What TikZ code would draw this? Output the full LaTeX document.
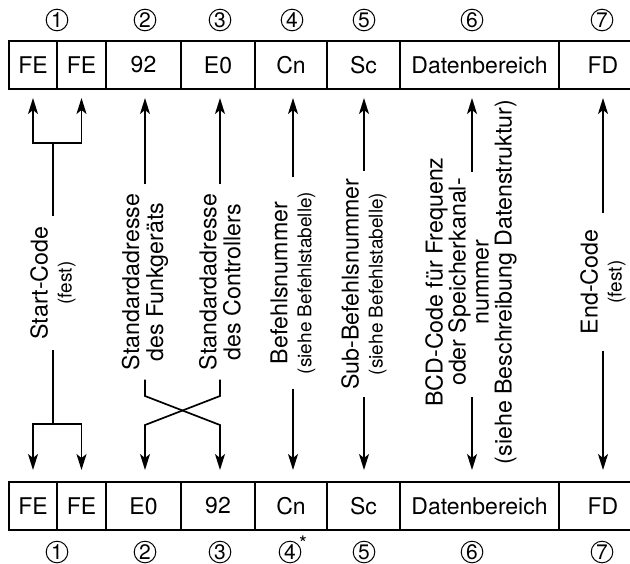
\documentclass[tikz,border=0pt]{standalone}
\usepackage{fontspec}
\setmainfont{TeX Gyre Heros}
\usetikzlibrary{positioning,arrows.meta}

\newcommand\klein{\fontsize{9.5}{12}\selectfont}

\tikzset{
  cell/.style={draw, line width=1.1pt, outer sep=0pt, minimum height=24pt,
    font=\fontsize{11.5}{14}\selectfont},
  lbl/.style={rotate=90, align=center, inner xsep=5pt, inner ysep=0pt,
    font=\fontsize{11.6}{12}\selectfont},
  num/.style={circle, draw, line width=0.5pt, minimum size=10.8pt, inner sep=0pt,
    font=\fontsize{10.5}{10}\selectfont},
  arr/.style={line width=0.85pt, -{Stealth[length=8pt,width=5pt,inset=2pt]}},
  line/.style={line width=0.85pt}
}

\begin{document}
\begin{tikzpicture}[x=0.5pt,y=-0.5pt]
  \useasboundingbox (0,0) rectangle (630,563);
  \clip (0,0) rectangle (630,563);

  % Numbers
  \node[num] (n1t) at (57,20) {1};
  \node[num] (n2t) at (145,20) {2};
  \node[num] (n3t) at (220,20) {3};
  \node[num] (n4t) at (292,20) {4};
  \node[num] (n5t) at (364,20) {5};
  \node[num] (n6t) at (472,20) {6};
  \node[num] (n7t) at (602,20) {7};

  \node[num] (n1b) at (57,552) {1};
  \node[num] (n2b) at (145,552) {2};
  \node[num] (n3b) at (220,552) {3};
  \node[num] (n4b) at (290,552) {4};
  \node[inner sep=0pt, font=\fontsize{10}{12}\selectfont] (ast) at ([xshift=2.5pt,yshift=0.5pt]n4b.north east) {*};
  \node[num] (n5b) at (364,552) {5};
  \node[num] (n6b) at (472,552) {6};
  \node[num] (n7b) at (602,552) {7};

  % Top row
  \node[cell, minimum width=24pt] (tFEa) at (33,65) {FE};
  \node[cell, minimum width=24.5pt, right=0pt of tFEa] (tFEb) {FE};
  \node[cell, minimum width=37.5pt, right=0pt of tFEb] (t92) {92};
  \node[cell, minimum width=37pt, right=0pt of t92] (tE0) {E0};
  \node[cell, minimum width=36pt, right=0pt of tE0] (tCn) {Cn};
  \node[cell, minimum width=36.5pt, right=0pt of tCn] (tSc) {Sc};
  \node[cell, minimum width=79.5pt, right=0pt of tSc] (tDat) {Datenbereich};
  \node[cell, minimum width=44pt, right=0pt of tDat] (tFD) {FD};

  % Bottom row
  \node[cell, minimum width=24pt] (bFEa) at (33,506) {FE};
  \node[cell, minimum width=24.5pt, right=0pt of bFEa] (bFEb) {FE};
  \node[cell, minimum width=37.5pt, right=0pt of bFEb] (bE0) {E0};
  \node[cell, minimum width=37pt, right=0pt of bE0] (b92) {92};
  \node[cell, minimum width=36pt, right=0pt of b92] (bCn) {Cn};
  \node[cell, minimum width=36.5pt, right=0pt of bCn] (bSc) {Sc};
  \node[cell, minimum width=79.5pt, right=0pt of bSc] (bDat) {Datenbereich};
  \node[cell, minimum width=44pt, right=0pt of bDat] (bFD) {FD};

  % Labels
  \node[lbl] (lStart) at (53,283) {Start-Code\\{\klein(fest)}};
  \node[lbl, inner xsep=4.5pt] (lFunk) at (145,282) {Standardadresse\\des Funkgeräts};
  \node[lbl, inner xsep=4.5pt] (lCtrl) at (220,282) {Standardadresse\\des Controllers};
  \node[lbl, inner xsep=7pt] (lCmd) at (293,283) {Befehlsnummer\\{\klein(siehe Befehlstabelle)}};
  \node[lbl, inner xsep=3.5pt] (lSub) at (364,284) {Sub-Befehlsnummer\\{\klein(siehe Befehlstabelle)}};
  \node[lbl, font=\fontsize{11.6}{11.5}\selectfont] (lData) at (471,282)
    {BCD-Code für Frequenz\\oder Speicherkanal-\\nummer\\(siehe Beschreibung Datenstruktur)};
  \node[lbl, inner xsep=8pt] (lEnd) at (603,282) {End-Code\\{\klein(fest)}};

  % Start-Code
  \coordinate (fkT) at (53,143);
  \coordinate (fkB) at (53,424);
  \draw[line] (lStart.east) -- (fkT);
  \draw[arr, shorten >=4.5pt] (fkT) -| (tFEa.south);
  \draw[arr, shorten >=4.5pt] (fkT) -| (tFEb.south);
  \draw[line] (lStart.west) -- (fkB);
  \draw[arr, shorten >=6pt] (fkB) -| (bFEa.north);
  \draw[arr, shorten >=6pt] (fkB) -| (bFEb.north);

  % Addresses
  \coordinate (xa) at (145,396);
  \coordinate (xb) at (220,396);
  \coordinate (ya) at (145,425);
  \coordinate (yb) at (220,425);
  \draw[arr, shorten >=4.5pt] (lFunk.east) -- (lFunk.east |- t92.south);
  \draw[arr, shorten >=4.5pt] (lCtrl.east) -- (lCtrl.east |- tE0.south);
  \draw[arr, shorten >=6pt] (lFunk.west) -- (xa) -- (yb) -- (yb |- b92.north);
  \draw[arr, shorten >=6pt] (lCtrl.west) -- (xb) -- (ya) -- (ya |- bE0.north);

  % Commands
  \draw[arr, shorten >=4.5pt] (lCmd.east) -- (lCmd.east |- tCn.south);
  \draw[arr, shorten >=6pt] (lCmd.west) -- (lCmd.west |- bCn.north);
  \draw[arr, shorten >=4.5pt] (lSub.east) -- (lSub.east |- tSc.south);
  \draw[arr, shorten >=6pt] (lSub.west) -- (lSub.west |- bSc.north);

  % Data
  \coordinate (dTop) at (472,172);
  \coordinate (dBot) at (472,397);
  \draw[arr, shorten >=4.5pt] (dTop) -- (dTop |- tDat.south);
  \draw[arr, shorten >=6pt] (dBot) -- (dBot |- bDat.north);

  % End-Code
  \draw[arr, shorten >=4.5pt] (lEnd.east) -- (lEnd.east |- tFD.south);
  \draw[arr, shorten >=6pt] (lEnd.west) -- (lEnd.west |- bFD.north);
\end{tikzpicture}
\end{document}
